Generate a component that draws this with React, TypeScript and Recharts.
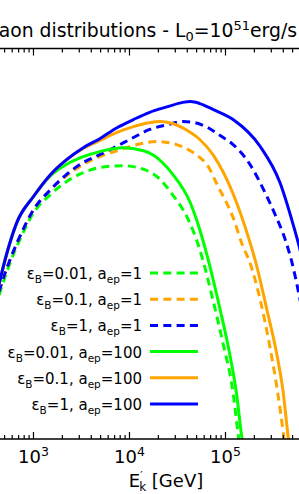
import React from 'react';
import { LineChart, Line, XAxis, YAxis, Customized } from 'recharts';

// kaon energy E'_k (GeV) and distribution (arbitrary log units) for each run
const eGreenDash = [400, 450, 570, 720, 1000, 1500, 2200, 3300, 4900, 8500, 16000, 21000, 28000, 40000, 54000, 74000, 94000, 120000, 135000, 142000];
const yGreenDash = [3.36, 3.77, 4.51, 5.10, 5.79, 6.26, 6.59, 6.82, 6.95, 7.00, 6.85, 6.64, 6.26, 5.67, 4.85, 3.56, 2.46, 1.18, 0.15, -0.28];

const eOrangeDash = [400, 450, 570, 720, 1000, 1500, 2200, 3300, 4900, 8000, 13000, 19000, 31000, 43000, 54000, 64000, 82000, 120000, 150000, 180000, 230000, 290000, 350000, 400000, 420000];
const yOrangeDash = [3.44, 3.87, 4.59, 5.18, 5.87, 6.38, 6.74, 7.03, 7.23, 7.41, 7.56, 7.62, 7.54, 7.38, 7.21, 7.03, 6.51, 5.67, 4.97, 4.51, 3.56, 2.36, 1.18, 0.15, -0.28];

const eBlueDash = [400, 450, 570, 720, 1000, 1500, 2200, 3300, 4900, 6300, 11000, 16000, 25000, 36000, 48000, 66000, 88000, 120000, 180000, 250000, 330000, 420000, 490000, 570000, 670000];
const yBlueDash = [3.44, 3.87, 4.59, 5.18, 5.87, 6.38, 6.77, 7.08, 7.28, 7.41, 7.72, 7.92, 8.05, 8.13, 8.10, 7.97, 7.77, 7.54, 7.03, 6.38, 5.74, 5.10, 4.54, 3.82, 2.92];

const eGreen = [400, 530, 670, 1000, 1500, 2200, 3300, 4900, 8500, 14000, 18000, 22000, 28000, 43000, 54000, 64000, 88000, 110000, 130000, 148000, 156000];
const yGreen = [3.56, 4.77, 5.54, 6.21, 6.74, 7.03, 7.23, 7.36, 7.46, 7.38, 7.26, 7.08, 6.79, 6.05, 5.36, 4.72, 3.31, 2.21, 1.18, 0.05, -0.28];

const eOrange = [400, 530, 670, 1000, 1500, 2200, 3300, 4900, 7400, 11000, 16000, 21000, 28000, 40000, 54000, 74000, 120000, 170000, 210000, 270000, 340000, 400000, 450000, 470000];
const yOrange = [3.56, 4.77, 5.54, 6.21, 6.77, 7.15, 7.44, 7.64, 7.85, 8.00, 8.10, 8.13, 8.08, 7.90, 7.67, 7.28, 6.28, 5.23, 4.46, 3.31, 2.21, 1.18, 0.05, -0.28];

const eBlue = [400, 530, 670, 1000, 1500, 2200, 3300, 4900, 7400, 11000, 16000, 25000, 36000, 43000, 54000, 74000, 120000, 230000, 370000, 500000, 580000, 670000];
const yBlue = [3.56, 4.77, 5.54, 6.21, 6.77, 7.15, 7.46, 7.69, 7.97, 8.18, 8.36, 8.51, 8.62, 8.64, 8.59, 8.44, 8.18, 7.49, 6.56, 5.54, 4.97, 4.33];

const majorTicks = [1000, 10000, 100000];
const minorTicks = [500, 600, 700, 800, 900, 2000, 3000, 4000, 5000, 6000, 7000, 8000, 9000,
  20000, 30000, 40000, 50000, 60000, 70000, 80000, 90000, 200000, 300000, 400000, 500000];

const series = [
  { key: 'gd', e: eGreenDash, y: yGreenDash, color: '#00ff00', dashed: true, eps: '0.01', aep: '1' },
  { key: 'od', e: eOrangeDash, y: yOrangeDash, color: '#ffa500', dashed: true, eps: '0.1', aep: '1' },
  { key: 'bd', e: eBlueDash, y: yBlueDash, color: '#0000ff', dashed: true, eps: '1', aep: '1' },
  { key: 'g', e: eGreen, y: yGreen, color: '#00ff00', dashed: false, eps: '0.01', aep: '100' },
  { key: 'o', e: eOrange, y: yOrange, color: '#ffa500', dashed: false, eps: '0.1', aep: '100' },
  { key: 'b', e: eBlue, y: yBlue, color: '#0000ff', dashed: false, eps: '1', aep: '100' },
];

const allTicks = [...minorTicks, ...majorTicks].sort((a, b) => a - b);
const font = 'DejaVu Sans, sans-serif';

const BottomTick = (props: any) => {
  const { x, y, payload } = props;
  const major = majorTicks.includes(payload.value);
  const exp = Math.round(Math.log10(payload.value));
  return (
    <g>
      <line x1={x} x2={x} y1={y} y2={y - (major ? 7 : 4)} stroke="#000" strokeWidth={1.2} />
      {major && (
        <text x={x} y={y + 24} textAnchor="middle" fontSize={18} fontFamily={font} fill="#000">
          10<tspan dy={-7} fontSize={12.5}>{exp}</tspan>
        </text>
      )}
    </g>
  );
};

const TopTick = (props: any) => {
  const { x, y, payload } = props;
  const major = majorTicks.includes(payload.value);
  return <line x1={x} x2={x} y1={y} y2={y + (major ? 7 : 4)} stroke="#000" strokeWidth={1.2} />;
};

// title, axis label and legend
const Annotations = () => (
  <g fontFamily={font} fill="#000">
    <text x={297} y={37} textAnchor="end" fontSize={18.8}>
      Kaon distributions - L<tspan dy={4} fontSize={13}>0</tspan>
      <tspan dy={-4}>=10</tspan><tspan dy={-7.5} fontSize={13}>51</tspan>
      <tspan dy={7.5}>erg/s</tspan>
    </text>
    <text x={166} y={487} textAnchor="middle" fontSize={18}>
      E<tspan dy={-8} fontSize={11}>′</tspan>
      <tspan dx={-3.5} dy={12} fontSize={12}>k</tspan>
      <tspan dy={-4}> [GeV]</tspan>
    </text>
    {series.map((s, i) => {
      const ry = 273 + i * 26.2;
      return (
        <g key={s.key}>
          <text x={142} y={ry + 6} textAnchor="end" fontSize={15}>
            ε<tspan dy={4} fontSize={10.5}>B</tspan>
            <tspan dy={-4}>={s.eps}, a</tspan>
            <tspan dy={4} fontSize={10.5}>ep</tspan>
            <tspan dy={-4}>={s.aep}</tspan>
          </text>
          <line x1={150} x2={198} y1={ry} y2={ry} stroke={s.color} strokeWidth={3}
            strokeDasharray={s.dashed ? '8 5.3' : undefined} />
        </g>
      );
    })}
  </g>
);

export default function App() {
  return (
    <div style={{ position: 'absolute', left: 0, top: 0, width: 299, height: 494, background: '#fff', overflow: 'hidden' }}>
      <LineChart width={299} height={494} margin={{ top: 0, right: 0, bottom: 0, left: 0 }}>
        <XAxis dataKey="e" type="number" scale="log" domain={[448, 583000]} allowDataOverflow
          ticks={allTicks} interval={0} height={55} tickSize={0} tickMargin={0}
          axisLine={{ stroke: '#000', strokeWidth: 1.5 }} tickLine={false} tick={<BottomTick />} />
        <XAxis xAxisId="top" orientation="top" dataKey="e" type="number" scale="log" domain={[448, 583000]}
          allowDataOverflow ticks={allTicks} interval={0} height={48.5} tickSize={0} tickMargin={0}
          axisLine={{ stroke: '#000', strokeWidth: 1.5 }} tickLine={false} tick={<TopTick />} />
        <YAxis type="number" domain={[0, 10]} allowDataOverflow hide width={0} />
        {series.map((s) => (
          <Line key={s.key} data={s.e.map((e, i) => ({ e, y: s.y[i] }))} dataKey="y" type="monotone"
            stroke={s.color} strokeWidth={3} strokeDasharray={s.dashed ? '8 5.3' : undefined}
            dot={false} activeDot={false} isAnimationActive={false} />
        ))}
        <Customized component={Annotations} />
      </LineChart>
    </div>
  );
}
